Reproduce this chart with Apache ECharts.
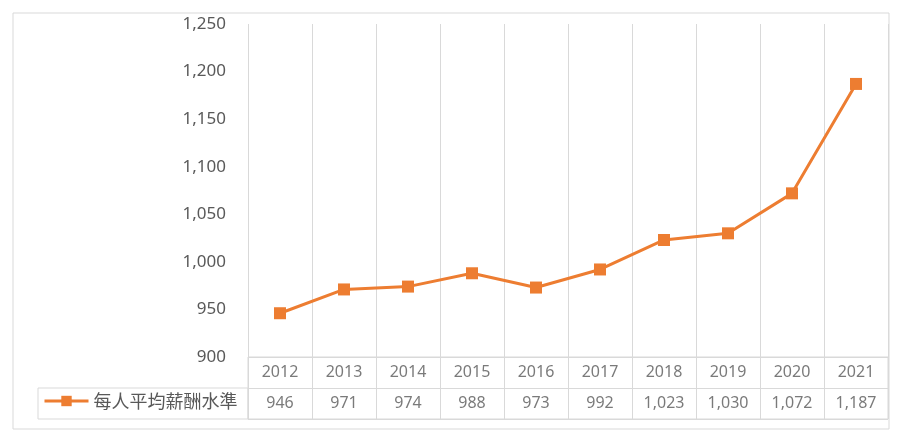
<!DOCTYPE html>
<html>
<head>
<meta charset="utf-8">
<script src="https://cdn.jsdelivr.net/npm/echarts@6/dist/echarts.min.js"></script>
<style>
  html, body { margin: 0; padding: 0; background: #fff; }
  #chart { width: 900px; height: 442px; }
</style>
</head>
<body>
<div id="chart"></div>
<script>
var years = ["2012", "2013", "2014", "2015", "2016", "2017", "2018", "2019", "2020", "2021"];
var salary = [946, 971, 974, 988, 973, 992, 1023, 1030, 1072, 1187];
var seriesName = "每人平均薪酬水準";
var tableRows = ["year", "value"];

var txt = "#595959";
var gridLine = "#d9d9d9";
var orange = "#ED7D31";
var fmt = function (v) { return Number(v).toLocaleString("en-US"); };

// cells of the data table under the plot
var cells = [];
years.forEach(function (y, i) {
    cells.push([y, "year", y]);
    cells.push([y, "value", fmt(salary[i])]);
});

var chart = echarts.init(document.getElementById("chart"));
chart.setOption({
    animation: false,
    textStyle: { fontFamily: "Noto Sans, Noto Sans CJK TC" },
    grid: [
        { left: 248, width: 640, top: 24, height: 333 },
        { left: 248, width: 640, top: 357, height: 62, show: true, borderColor: gridLine, borderWidth: 1 }
    ],
    legend: {
        data: [seriesName],
        left: 43,
        top: 392,
        padding: 0,
        itemWidth: 44,
        itemHeight: 13,
        lineStyle: { width: 3 },
        textStyle: { color: txt, fontSize: 18, fontFamily: "Noto Sans CJK TC" }
    },
    graphic: [
        { type: "rect", shape: { x: 13, y: 13, width: 876, height: 416 },
          style: { fill: null, stroke: gridLine, lineWidth: 1 }, silent: true },
        { type: "rect", shape: { x: 38, y: 388, width: 210, height: 31 },
          style: { fill: null, stroke: gridLine, lineWidth: 1 }, silent: true }
    ],
    xAxis: [
        {
            type: "category", gridIndex: 0, data: years, boundaryGap: true,
            axisLine: { show: false }, axisTick: { show: false }, axisLabel: { show: false },
            splitLine: { show: true, lineStyle: { color: gridLine, width: 1 } }
        },
        {
            type: "category", gridIndex: 1, data: years, boundaryGap: true,
            axisLine: { show: false }, axisTick: { show: false }, axisLabel: { show: false },
            splitLine: { show: true, lineStyle: { color: gridLine, width: 1 } }
        }
    ],
    yAxis: [
        {
            type: "value", gridIndex: 0, min: 900, max: 1250, interval: 50,
            axisLine: { show: false }, axisTick: { show: false }, splitLine: { show: false },
            axisLabel: { color: txt, fontSize: 17, margin: 22, formatter: fmt }
        },
        {
            type: "category", gridIndex: 1, data: tableRows, inverse: true,
            axisLine: { show: false }, axisTick: { show: false }, axisLabel: { show: false },
            splitLine: { show: true, lineStyle: { color: gridLine, width: 1 } }
        }
    ],
    series: [
        {
            name: seriesName,
            type: "line",
            xAxisIndex: 0, yAxisIndex: 0,
            data: salary,
            symbol: "rect",
            symbolSize: 12,
            lineStyle: { color: orange, width: 3 },
            itemStyle: { color: orange }
        },
        {
            name: "table",
            type: "scatter",
            xAxisIndex: 1, yAxisIndex: 1,
            data: cells,
            symbolSize: 1,
            itemStyle: { color: "rgba(0,0,0,0)" },
            silent: true,
            label: {
                show: true, position: "inside", color: txt, fontSize: 16,
                formatter: function (p) { return p.value[2]; }
            }
        }
    ]
});
</script>
</body>
</html>
